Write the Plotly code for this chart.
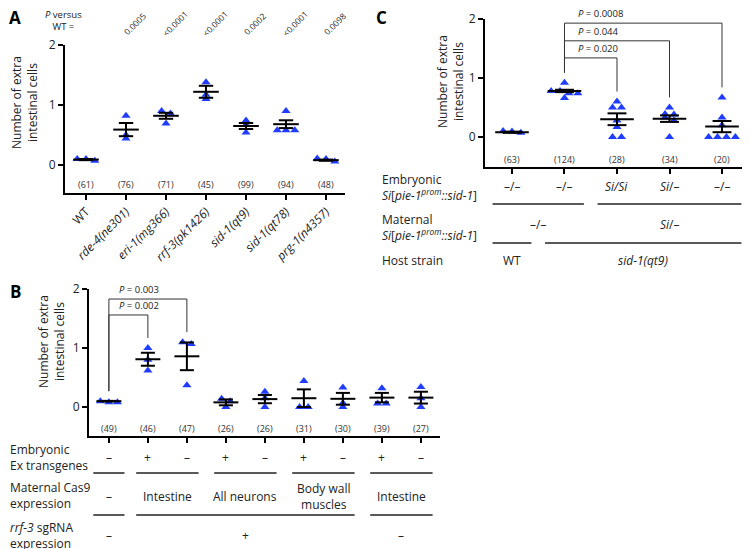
import plotly.graph_objects as go

W, H = 750, 549
OX, OY = 8, 8   # page offset of the figure inside the browser window
FONT = "Open Sans"
BLUE = "#1f3cff"

# ---------------- Panel A data ----------------
a_labels = ["WT", "<i>rde-4(ne301)</i>", "<i>eri-1(mg366)</i>", "<i>rrf-3(pk1426)</i>",
            "<i>sid-1(qt9)</i>", "<i>sid-1(qt78)</i>", "<i>prg-1(n4357)</i>"]
a_n = [61, 76, 71, 45, 99, 94, 48]
a_p = ["", "0.0005", "&lt;0.0001", "&lt;0.0001", "0.0002", "&lt;0.0001", "0.0098"]
a_points = [[0.10, 0.07, 0.10], [0.82, 0.50, 0.44], [0.90, 0.86, 0.69], [1.38, 1.17, 1.10],
            [0.74, 0.67, 0.54], [0.90, 0.58, 0.58, 0.58], [0.11, 0.06, 0.10]]
a_mean = [0.09, 0.59, 0.82, 1.22, 0.65, 0.68, 0.08]
a_sem = [0.01, 0.11, 0.05, 0.10, 0.05, 0.065, 0.01]

# ---------------- Panel B data ----------------
b_n = [49, 46, 47, 26, 26, 31, 30, 39, 27]
b_points = [[0.10, 0.08, 0.08], [1.00, 0.80, 0.62], [1.10, 1.07, 0.37], [0.14, 0.10, 0.00],
            [0.26, 0.15, 0.00], [0.44, 0.00, 0.00], [0.33, 0.07, 0.00], [0.32, 0.06, 0.06],
            [0.34, 0.15, 0.00]]
b_mean = [0.10, 0.81, 0.86, 0.08, 0.135, 0.15, 0.14, 0.16, 0.16]
b_sem = [0.005, 0.11, 0.235, 0.05, 0.07, 0.15, 0.10, 0.08, 0.10]
b_brackets = [(0, 1, 1.56, "<i>P</i> = 0.002"), (0, 2, 1.83, "<i>P</i> = 0.003")]
b_emb = ["–", "+", "–", "+", "–", "+", "–", "+", "–"]
b_cas9 = [("–", 0, 0), ("Intestine", 1, 2), ("All neurons", 3, 4),
          ("Body wall<br>muscles", 5, 6), ("Intestine", 7, 8)]
b_sgrna = [("–", 0, 0), ("+", 1, 6), ("–", 7, 8)]

# ---------------- Panel C data ----------------
c_n = [63, 124, 28, 34, 20]
c_points = [[0.10, 0.07, 0.09], [0.92, 0.78, 0.78, 0.74, 0.74, 0.66],
            [0.60, 0.50, 0.50, 0.28, 0.17, 0.00, 0.00],
            [0.50, 0.39, 0.38, 0.33, 0.28, 0.00],
            [0.67, 0.33, 0.20, 0.00, 0.00, 0.00, 0.00]]
c_mean = [0.08, 0.78, 0.30, 0.31, 0.175]
c_sem = [0.01, 0.02, 0.10, 0.055, 0.095]
c_brackets = [(1, 2, 1.34, "<i>P</i> = 0.020"), (1, 3, 1.63, "<i>P</i> = 0.044"),
              (1, 4, 1.93, "<i>P</i> = 0.0008")]
c_emb = ["–/–", "–/–", "<i>Si/Si</i>", "<i>Si</i>/–", "–/–"]
c_mat = [("–/–", 0, 1), ("<i>Si</i>/–", 2, 4)]
c_host = [("WT", 0, 0), ("<i>sid-1(qt9)</i>", 1, 4)]


def px(p):
    return (p - OX) / W


def py(p):
    return 1 - (p - OY) / H


def swarm(vals, d, tol=0.05):
    order = sorted(range(len(vals)), key=lambda k: -vals[k])
    offs = [0.0] * len(vals)
    groups, cur = [], []
    for k in order:
        if cur and vals[cur[0]] - vals[k] > tol:
            groups.append(cur)
            cur = []
        cur.append(k)
    groups.append(cur)
    for g in groups:
        m = len(g)
        for r, k in enumerate(g):
            offs[k] = (r - (m - 1) / 2) * d
    return offs


fig = go.Figure()
annotations = []
shapes = []


def ann(**kw):
    kw.setdefault("xanchor", "center")
    kw.setdefault("yanchor", "middle")
    kw.setdefault("showarrow", False)
    annotations.append(kw)


def add_panel(xa, ya, points, mean, sem, n, d, n_y):
    xs, ys = [], []
    for i, vals in enumerate(points):
        offs = swarm(vals, d)
        xs += [i + o for o in offs]
        ys += vals
    fig.add_trace(go.Scatter(x=xs, y=ys, mode="markers", xaxis=xa, yaxis=ya,
                             marker=dict(symbol="triangle-up", size=8, color=BLUE),
                             showlegend=False, hoverinfo="skip"))
    lx, ly = [], []
    for i, (m, s) in enumerate(zip(mean, sem)):
        lx += [i - 0.32, i + 0.32, None, i - 0.18, i + 0.18, None,
               i - 0.18, i + 0.18, None, i, i, None]
        ly += [m, m, None, m + s, m + s, None, m - s, m - s, None, m - s, m + s, None]
    fig.add_trace(go.Scatter(x=lx, y=ly, mode="lines", xaxis=xa, yaxis=ya,
                             line=dict(color="black", width=2),
                             showlegend=False, hoverinfo="skip"))
    for i, v in enumerate(n):
        ann(x=i, y=n_y, xref=xa, yref=ya, text=f"({v})", font=dict(size=9, color="#333"))


def add_brackets(xa, ya, points, brackets, gap=0.17):
    for (i, j, lvl, txt) in brackets:
        dl = max(points[i]) + gap
        dr = max(points[j]) + gap
        fig.add_trace(go.Scatter(x=[i, i, j, j], y=[dl, lvl, lvl, dr], mode="lines",
                                 xaxis=xa, yaxis=ya, line=dict(color="#333", width=1),
                                 showlegend=False, hoverinfo="skip"))
        ann(x=i + 0.22, y=lvl, xref=xa, yref=ya, text=txt, xanchor="left",
            yanchor="bottom", yshift=1, font=dict(size=9.5, color="#222"))


add_panel("x", "y", a_points, a_mean, a_sem, a_n, 0.22, -0.32)
add_panel("x2", "y2", b_points, b_mean, b_sem, b_n, 0.22, -0.36)
add_panel("x3", "y3", c_points, c_mean, c_sem, c_n, 0.17, -0.38)
add_brackets("x2", "y2", b_points, b_brackets)
add_brackets("x3", "y3", c_points, c_brackets)

# P-values panel A
ann(x=px(63), y=py(20), xref="paper", yref="paper", text="<i>P</i> versus<br>WT =",
    align="center", font=dict(size=9.5, color="#222"))
for i, p in enumerate(a_p):
    if p:
        ann(x=i + 0.22, y=py(23), xref="x", yref="paper", text=p, textangle=-45,
            font=dict(size=8.5, color="#222"))

# y-axis titles
for (xp, yp) in [(24, 103), (51, 342), (450, 82)]:
    ann(x=px(xp), y=py(yp), xref="paper", yref="paper",
        text="Number of extra<br>intestinal cells", textangle=-90,
        font=dict(size=12, color="#222"))

# panel letters
for (t, xp, yp) in [("A", 15, 17), ("B", 15, 291), ("C", 381, 17)]:
    ann(x=px(xp), y=py(yp), xref="paper", yref="paper", text=f"<b>{t}</b>",
        font=dict(size=17, color="black"))

# ---------------- Panel B table ----------------
TF = dict(size=12, color="#222")
for (txt, yp) in [("Embryonic<br>Ex transgenes", 457), ("Maternal Cas9<br>expression", 495),
                  ("<i>rrf-3</i> sgRNA<br>expression", 535)]:
    ann(x=px(8), y=py(yp), xref="paper", yref="paper", text=txt, xanchor="left",
        align="left", font=TF)
for i, t in enumerate(b_emb):
    ann(x=i, y=py(457), xref="x2", yref="paper", text=t, font=TF)
for (t, a, b) in b_cas9:
    ann(x=(a + b) / 2, y=py(496), xref="x2", yref="paper", text=t, font=TF)
for (t, a, b) in b_sgrna:
    ann(x=(a + b) / 2, y=py(535), xref="x2", yref="paper", text=t, font=TF)
for groups, yp in [(b_cas9, 473), (b_sgrna, 515)]:
    for (t, a, b) in groups:
        pad = 0.4 if a == b else 0.3
        shapes.append(dict(type="line", xref="x2", yref="paper", x0=a - pad, x1=b + pad,
                           y0=py(yp), y1=py(yp), line=dict(color="#222", width=1.5)))

# ---------------- Panel C table ----------------
sid = "<i>Si</i>[<i>pie-1</i><sup><i>prom</i></sup><i>::sid-1</i>]"
for (txt, yp) in [("Embryonic<br>" + sid, 187), ("Maternal<br>" + sid, 227), ("Host strain", 260)]:
    ann(x=px(380), y=py(yp), xref="paper", yref="paper", text=txt, xanchor="left",
        align="left", font=TF)
for i, t in enumerate(c_emb):
    ann(x=i, y=py(186), xref="x3", yref="paper", text=t, font=TF)
for (t, a, b) in c_mat:
    ann(x=(a + b) / 2, y=py(225), xref="x3", yref="paper", text=t, font=TF)
for (t, a, b) in c_host:
    ann(x=(a + b) / 2, y=py(260), xref="x3", yref="paper", text=t, font=TF)
for groups, yp in [(c_mat, 204), (c_host, 243)]:
    for (t, a, b) in groups:
        shapes.append(dict(type="line", xref="x3", yref="paper", x0=a - 0.37, x1=b + 0.37,
                           y0=py(yp), y1=py(yp), line=dict(color="#222", width=1.5)))

ax_common = dict(showline=True, linecolor="black", linewidth=2, ticks="outside",
                 ticklen=5, tickwidth=2, tickcolor="black", showgrid=False, zeroline=False,
                 fixedrange=True, automargin=False)
yax_common = dict(ax_common, tickvals=[0, 1, 2], tickfont=dict(size=12, color="#222"))

fig.update_layout(
    width=W, height=H, margin=dict(l=0, r=0, t=0, b=0, pad=0, autoexpand=False),
    paper_bgcolor="white", plot_bgcolor="white",
    font=dict(family=FONT, color="#222"),
    showlegend=False,
    xaxis=dict(ax_common, domain=[px(65), px(345)], range=[-0.525, 6.475], anchor="y",
               tickvals=list(range(len(a_labels))), ticktext=a_labels, tickangle=-45,
               tickfont=dict(size=12, color="#222")),
    yaxis=dict(yax_common, domain=[py(193), py(45)], range=[-0.467, 2], anchor="x"),
    xaxis2=dict(ax_common, domain=[px(89), px(440)], range=[-0.51, 8.49], anchor="y2",
                tickvals=list(range(len(b_n))), showticklabels=False),
    yaxis2=dict(yax_common, domain=[py(436), py(289)], range=[-0.49, 2], anchor="x2"),
    xaxis3=dict(ax_common, domain=[px(485), px(743)], range=[-0.514, 4.4], anchor="y3",
                tickvals=list(range(len(c_n))), showticklabels=False),
    yaxis3=dict(yax_common, domain=[py(167), py(19)], range=[-0.51, 2], anchor="x3"),
    annotations=annotations,
    shapes=shapes,
)

fig.write_html("out.html")
